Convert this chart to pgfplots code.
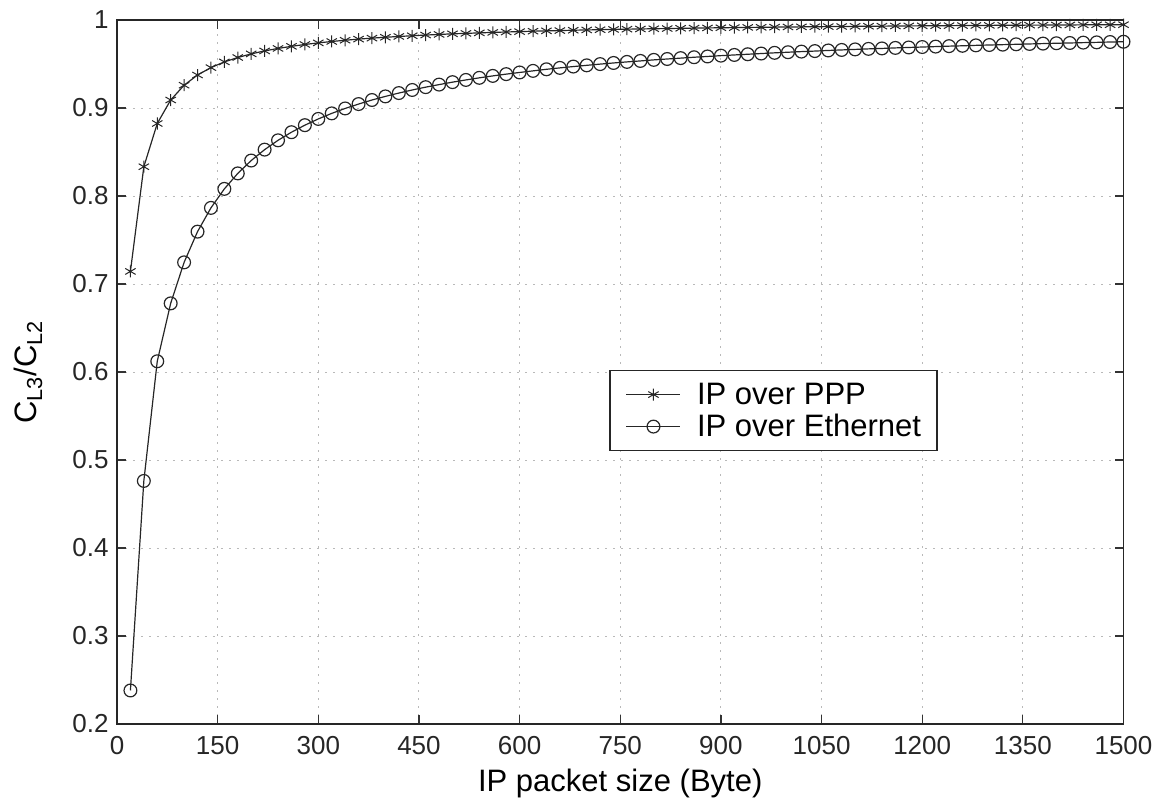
\documentclass[border=0pt]{standalone}
\usepackage{fontspec}
\setmainfont{Liberation Sans}
\usepackage{pgfplots}
\pgfplotsset{compat=1.18}
\usetikzlibrary{calc}
\begin{document}
\begin{tikzpicture}
\useasboundingbox (0,0) rectangle (579pt,399pt);
\begin{axis}[
  at={(58.5pt,37pt)}, anchor=south west,
  scale only axis, width=503.25pt, height=352pt,
  xmin=0, xmax=1500, ymin=0.2, ymax=1,
  xtick={0,150,300,450,600,750,900,1050,1200,1350,1500},
  ytick={0.2,0.3,0.4,0.5,0.6,0.7,0.8,0.9,1},
  tick align=inside, xtick pos=both, ytick pos=both,
  major tick length=4.5pt,
  tick style={black!80, line width=0.6pt},
  axis line style={black!85, line width=0.9pt},
  grid=major,
  major grid style={gray!55, line width=0.5pt, dash pattern=on 1pt off 3pt},
  /pgf/number format/assume math mode=true,
  /pgf/number format/1000 sep={},
  ticklabel style={font=\fontsize{13}{15}\selectfont, text=black!85},
  xticklabel style={anchor=base, inner sep=0pt, yshift=-15.5pt},
  yticklabel style={anchor=east, inner sep=0pt, xshift=-4pt},
  xlabel={IP packet size (Byte)},
  xlabel style={at={(rel axis cs:0.5,0)}, anchor=base, yshift=-34pt, font=\fontsize{15.5}{18}\selectfont, inner sep=0pt},
  ylabel={C\textsubscript{L3}/C\textsubscript{L2}},
  ylabel style={at={($(rel axis cs:0,0.5)+(-40pt,0pt)$)}, anchor=base, rotate=0, font=\fontsize{15.5}{18}\selectfont, inner sep=0pt},
  legend style={at={(rel axis cs:0.489,0.503)}, anchor=north west,
    font=\fontsize{15.5}{18}\selectfont, draw=black!85, line width=0.7pt,
    inner xsep=8pt, inner ysep=5pt, row sep=2pt, column sep=8pt,
    nodes={inner xsep=0pt, inner ysep=1pt, text height=11pt, text depth=1pt}},
  legend cell align=left,
  legend image code/.code={\draw[mark repeat=2, mark phase=2] plot coordinates {(0pt,0pt) (13.5pt,0pt) (27pt,0pt)};},
]
\addplot[black!85, line width=0.6pt, mark=asterisk, mark size=3pt, mark options={line width=0.5pt}] coordinates {
(20,0.7143) (40,0.8333) (60,0.8824) (80,0.9091) (100,0.9259) (120,0.9375) (140,0.9459) (160,0.9524) (180,0.9574) (200,0.9615)
(220,0.9649) (240,0.9677) (260,0.9701) (280,0.9722) (300,0.9740) (320,0.9756) (340,0.9770) (360,0.9783) (380,0.9794) (400,0.9804)
(420,0.9813) (440,0.9821) (460,0.9829) (480,0.9836) (500,0.9843) (520,0.9848) (540,0.9854) (560,0.9859) (580,0.9864) (600,0.9868)
(620,0.9873) (640,0.9877) (660,0.9880) (680,0.9884) (700,0.9887) (720,0.9890) (740,0.9893) (760,0.9896) (780,0.9898) (800,0.9901)
(820,0.9903) (840,0.9906) (860,0.9908) (880,0.9910) (900,0.9912) (920,0.9914) (940,0.9916) (960,0.9917) (980,0.9919) (1000,0.9921)
(1020,0.9922) (1040,0.9924) (1060,0.9925) (1080,0.9926) (1100,0.9928) (1120,0.9929) (1140,0.9930) (1160,0.9932) (1180,0.9933) (1200,0.9934)
(1220,0.9935) (1240,0.9936) (1260,0.9937) (1280,0.9938) (1300,0.9939) (1320,0.9940) (1340,0.9941) (1360,0.9942) (1380,0.9942) (1400,0.9943)
(1420,0.9944) (1440,0.9945) (1460,0.9946) (1480,0.9946) (1500,0.9947)
};
\addlegendentry{IP over PPP}
\addplot[black!85, line width=0.6pt, mark=o, mark size=3.2pt, mark options={line width=0.6pt}] coordinates {
(20,0.2381) (40,0.4762) (60,0.6122) (80,0.6780) (100,0.7246) (120,0.7595) (140,0.7865) (160,0.8081) (180,0.8257) (200,0.8403)
(220,0.8527) (240,0.8633) (260,0.8725) (280,0.8805) (300,0.8876) (320,0.8939) (340,0.8995) (360,0.9045) (380,0.9091) (400,0.9132)
(420,0.9170) (440,0.9205) (460,0.9237) (480,0.9266) (500,0.9294) (520,0.9319) (540,0.9343) (560,0.9365) (580,0.9385) (600,0.9404)
(620,0.9422) (640,0.9440) (660,0.9456) (680,0.9471) (700,0.9485) (720,0.9499) (740,0.9512) (760,0.9524) (780,0.9535) (800,0.9547)
(820,0.9557) (840,0.9567) (860,0.9577) (880,0.9586) (900,0.9595) (920,0.9603) (940,0.9611) (960,0.9619) (980,0.9627) (1000,0.9634)
(1020,0.9641) (1040,0.9647) (1060,0.9654) (1080,0.9660) (1100,0.9666) (1120,0.9672) (1140,0.9677) (1160,0.9683) (1180,0.9688) (1200,0.9693)
(1220,0.9698) (1240,0.9703) (1260,0.9707) (1280,0.9712) (1300,0.9716) (1320,0.9720) (1340,0.9724) (1360,0.9728) (1380,0.9732) (1400,0.9736)
(1420,0.9739) (1440,0.9743) (1460,0.9746) (1480,0.9750) (1500,0.9753)
};
\addlegendentry{IP over Ethernet}
\end{axis}
\end{tikzpicture}
\end{document}
